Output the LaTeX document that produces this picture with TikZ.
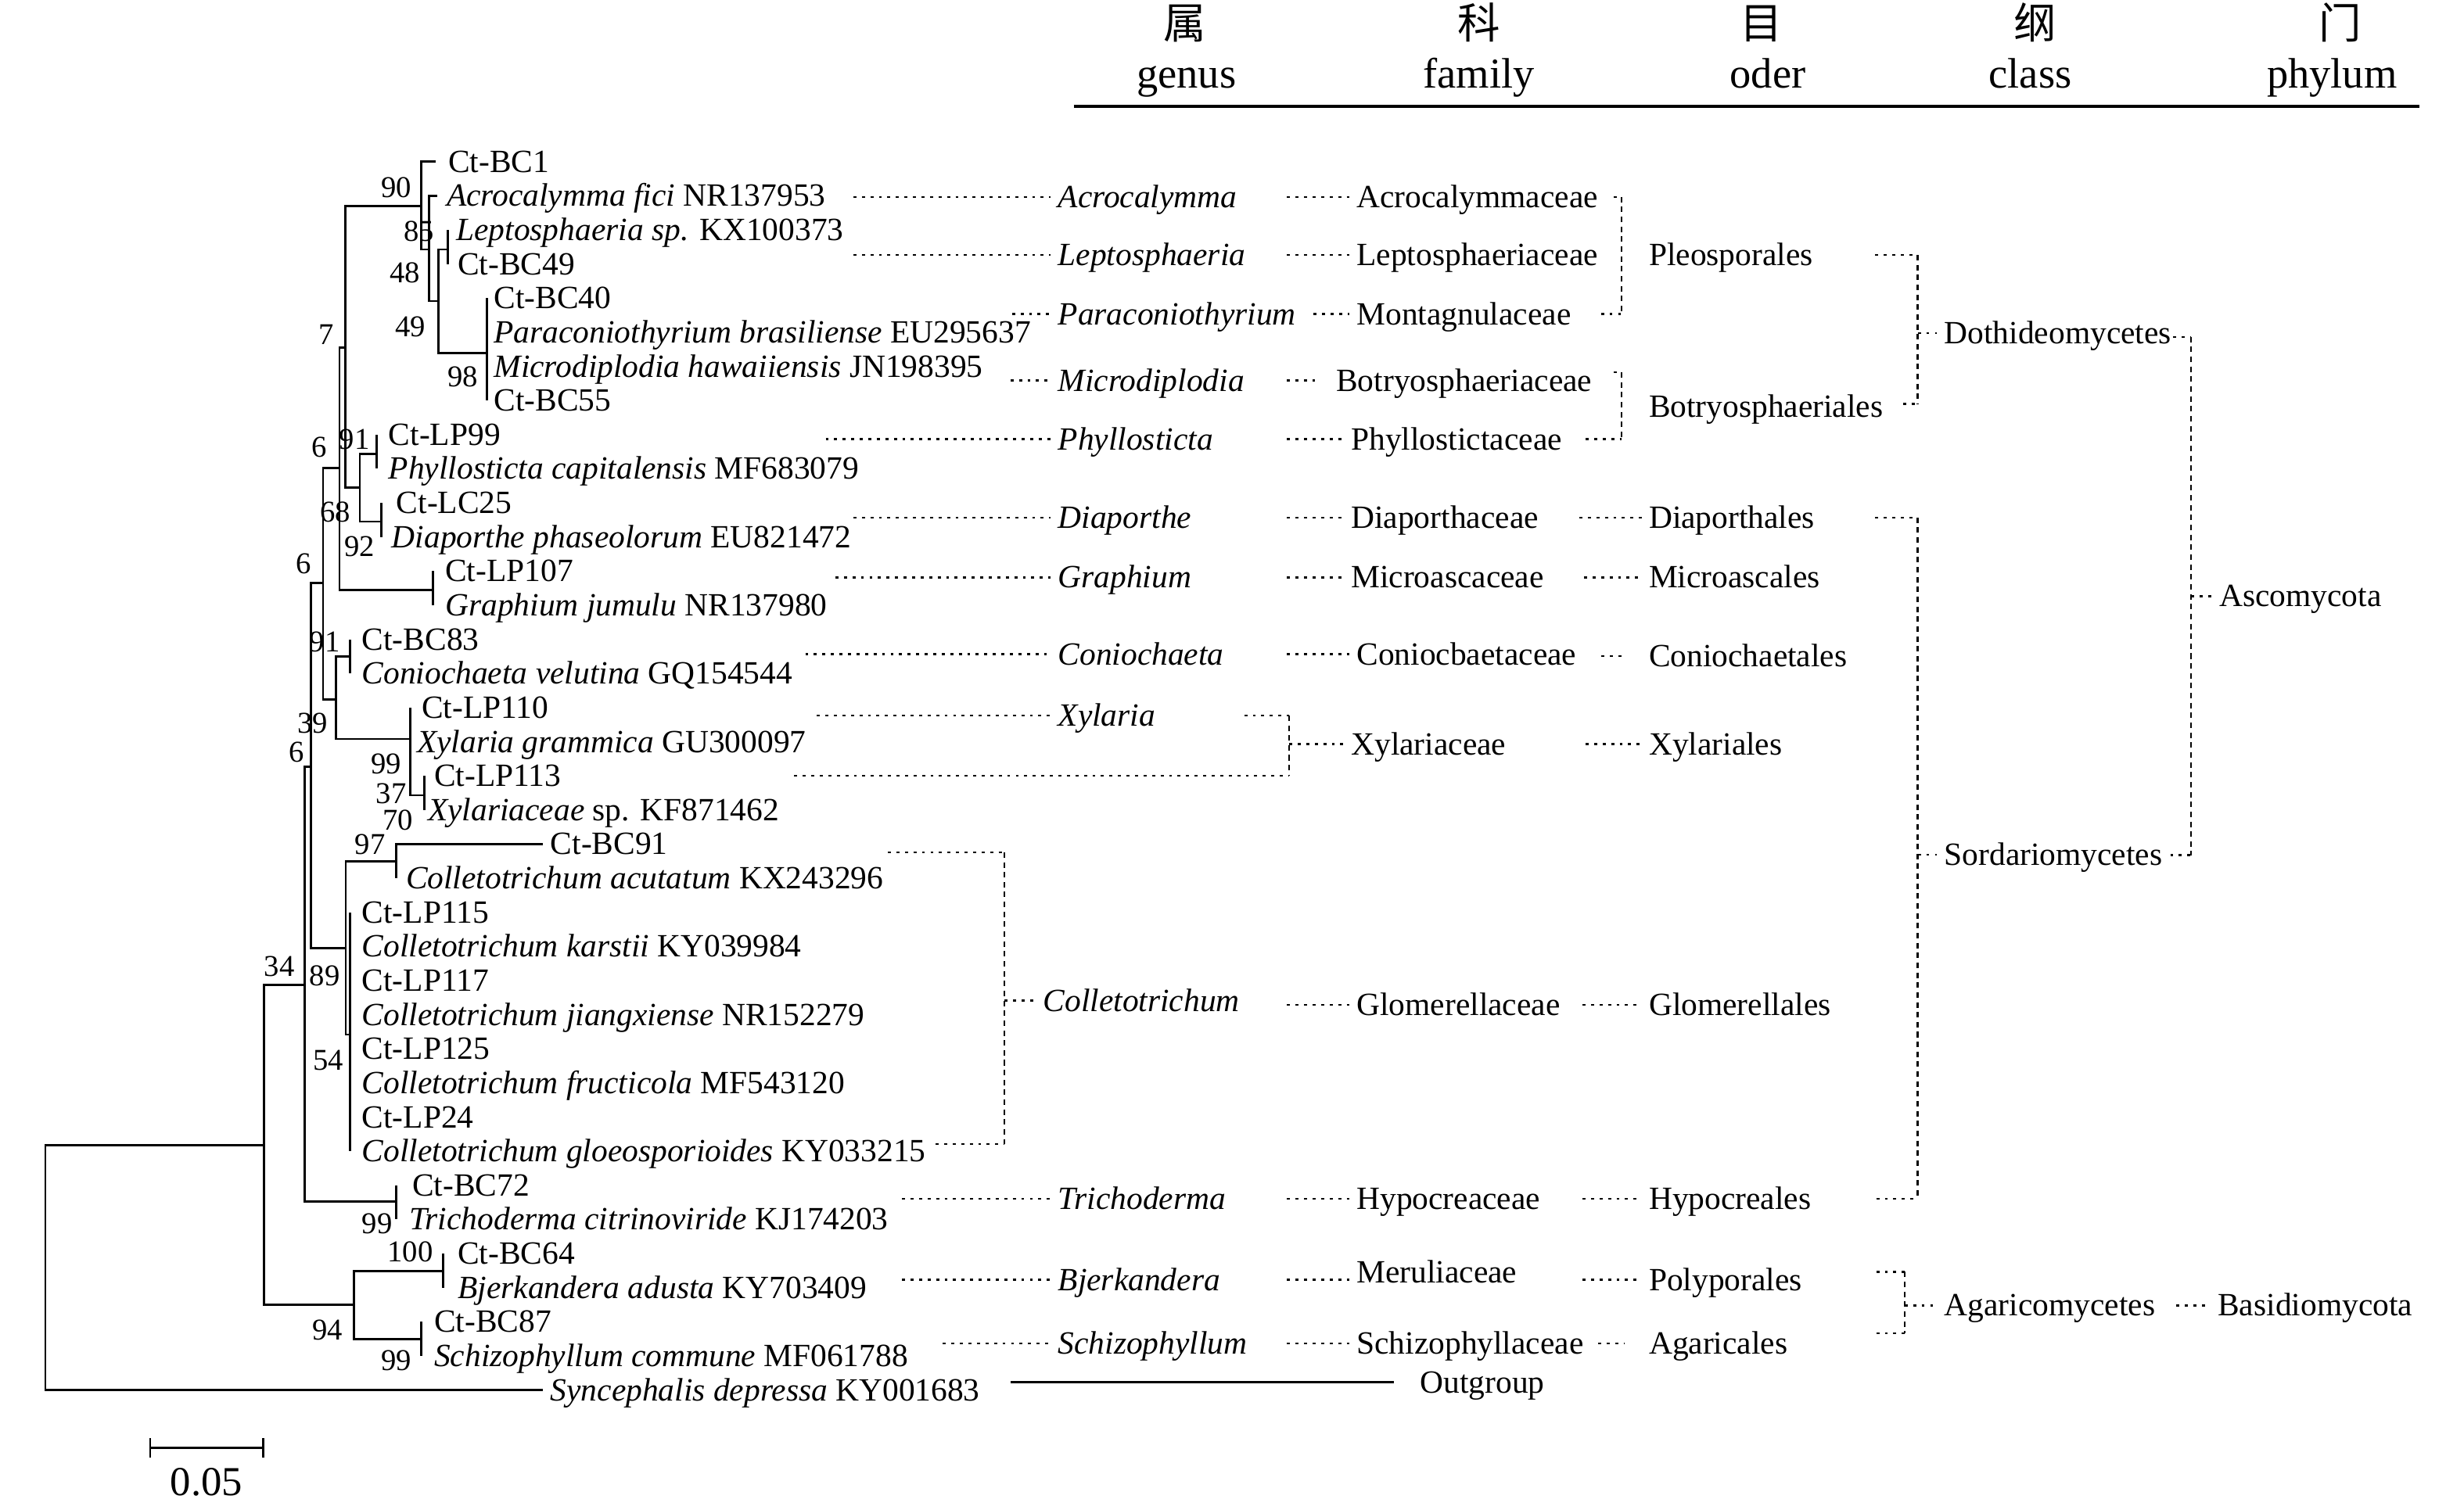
\documentclass[tikz,border=0pt]{standalone}
\usepackage{fontspec}
\setmainfont{Liberation Serif}
\newfontfamily\cjk{Noto Sans CJK SC}
\usetikzlibrary{positioning}

\begin{document}
\begin{tikzpicture}[x=0.02009cm, y=-0.02009cm,
  branch/.style={line width=0.8pt},
  dotline/.style={line width=0.7pt, dash pattern=on 1.1pt off 2pt},
  dashline/.style={line width=0.7pt, dash pattern=on 2pt off 1.6pt},
  tiptext/.style={anchor=west, inner sep=0pt, text height=9.5pt, text depth=1.8pt, font=\fontsize{11.8}{13}\selectfont},
  boot/.style={inner sep=0pt, font=\fontsize{11}{12}\selectfont},
  rank/.style={anchor=west, xshift=-2.5pt, inner xsep=2.5pt, inner ysep=0pt, text height=9.5pt, text depth=1.8pt, font=\fontsize{11.8}{13}\selectfont},
  genus/.style={rank, font=\fontsize{11.8}{13}\selectfont\itshape},
  headtext/.style={anchor=base, inner sep=0pt, font=\fontsize{15.5}{17}\selectfont},
]
\useasboundingbox (0,0) rectangle (1568,961);

% header
\foreach \x/\zh [count=\k] in {754/属, 941/科, 1121/目, 1295/纲, 1489/门}
  \node[headtext] (hz\k) at (\x,24.5) {\cjk \zh};
\foreach \x/\en [count=\k] in {755/genus, 941/family, 1125/oder, 1292/class, 1484/phylum}
  \node[headtext] (he\k) at (\x,56) {\en};
\coordinate (hr1) at (683.4,67.7);
\coordinate (hr2) at (1539.4,67.7);
\draw[line width=1.2pt] (hr1) -- (hr2);

% tips: line end / text start / label
\foreach \xe/\xt/\lab [count=\i] in {
  277.3/285/{Ct-BC1},
  278.2/284/{\textit{Acrocalymma fici} NR137953},
  285.1/290/{\textit{Leptosphaeria sp.} KX100373},
  285.1/291/{Ct-BC49},
  310/314/{Ct-BC40},
  310/314/{\textit{Paraconiothyrium brasiliense} EU295637},
  310/314/{\textit{Microdiplodia hawaiiensis} JN198395},
  310/314/{Ct-BC55},
  239.6/247/{Ct-LP99},
  239.6/247/{\textit{Phyllosticta capitalensis} MF683079},
  242.7/252/{Ct-LC25},
  242.7/249/{\textit{Diaporthe phaseolorum} EU821472},
  275.6/283/{Ct-LP107},
  275.6/283/{\textit{Graphium jumulu} NR137980},
  222.9/230/{Ct-BC83},
  222.9/230/{\textit{Coniochaeta velutina} GQ154544},
  261.1/268/{Ct-LP110},
  261.1/265/{\textit{Xylaria grammica} GU300097},
  270/276/{Ct-LP113},
  270/272/{\textit{Xylariaceae} sp. KF871462},
  345.6/350/{Ct-BC91},
  252.2/258/{\textit{Colletotrichum acutatum} KX243296},
  222.9/230/{Ct-LP115},
  222.9/230/{\textit{Colletotrichum karstii} KY039984},
  222.9/230/{Ct-LP117},
  222.9/230/{\textit{Colletotrichum jiangxiense} NR152279},
  222.9/230/{Ct-LP125},
  222.9/230/{\textit{Colletotrichum fructicola} MF543120},
  222.9/230/{Ct-LP24},
  222.9/230/{\textit{Colletotrichum gloeosporioides} KY033215},
  252.2/262/{Ct-BC72},
  252.2/260/{\textit{Trichoderma citrinoviride} KJ174203},
  281.8/291/{Ct-BC64},
  281.8/291/{\textit{Bjerkandera adusta} KY703409},
  268.2/276/{Ct-BC87},
  268.2/276/{\textit{Schizophyllum commune} MF061788},
  345.6/350/{\textit{Syncephalis depressa} KY001683}}
{
  \coordinate (e\i) at (\xe,{102.9+21.72*(\i-1)});
  \node[tiptext] (t\i) at (\xt,{102.9+21.72*(\i-1)}) {\lab};
}

% inner nodes
\coordinate (root) at (28.9,800);
\coordinate (n34) at (167.8,729);
\coordinate (nF) at (193.8,626.9);
\coordinate (nG) at (197.8,487.9);
\coordinate (nE) at (205.6,371.2);
\coordinate (nB) at (216,297.9);
\coordinate (nA) at (219.6,221.3);
\coordinate (n90) at (268.2,131.3);
\coordinate (n85) at (272.9,158.8);
\coordinate (n48) at (278.9,191.6);
\coordinate (nLp) at (285.1,158.8);
\coordinate (n98) at (310,224.6);
\coordinate (nC) at (229,310.4);
\coordinate (nPh) at (239.6,288.8);
\coordinate (nDi) at (242.7,332);
\coordinate (nGr) at (275.6,375.4);
\coordinate (nD) at (213.8,445.4);
\coordinate (nCo) at (222.9,417.9);
\coordinate (nXy) at (261.1,470.4);
\coordinate (nXs) at (270,506.2);
\coordinate (n89) at (220,603.5);
\coordinate (nCa) at (252.2,548.2);
\coordinate (n54) at (222.9,658.5);
\coordinate (nT) at (252.2,765);
\coordinate (nBs) at (225.1,830.5);
\coordinate (nBj) at (281.8,809.2);
\coordinate (nSc) at (268.2,852.5);

\foreach \p/\c in {root/n34, root/e37, n34/nF, n34/nBs, nF/nG, nF/nT,
  nG/nE, nG/n89, nE/nB, nE/nD, nB/nA, nB/nGr, nA/n90, nA/nC,
  n90/e1, n90/n85, n85/e2, n85/n48, n48/nLp, n48/n98, nLp/e3, nLp/e4,
  n98/e5, n98/e6, n98/e7, n98/e8, nC/nPh, nC/nDi, nPh/e9, nPh/e10,
  nDi/e11, nDi/e12, nGr/e13, nGr/e14, nD/nCo, nD/nXy, nCo/e15, nCo/e16,
  nXy/e17, nXy/e18, nXy/nXs, nXs/e19, nXs/e20, n89/nCa, n89/n54,
  nCa/e21, nCa/e22, n54/e23, n54/e24, n54/e25, n54/e26, n54/e27,
  n54/e28, n54/e29, n54/e30, nT/e31, nT/e32, nBs/nBj, nBs/nSc,
  nBj/e33, nBj/e34, nSc/e35, nSc/e36}
  \draw[branch] (\p) |- (\c);

% bootstrap values
\foreach \x/\y/\v [count=\k] in {252.2/119.6/90, 266.7/147.1/85, 257.8/173.8/48,
  261.1/207.9/49, 294.4/239.6/98, 207.8/212.9/7, 225.6/279.6/91, 203.3/284.6/6,
  213.3/326.2/68, 228.9/347.9/92, 193.3/358.7/6, 206.7/408.7/91, 198.9/460.4/39,
  188.9/478.7/6, 245.6/486.5/99, 248.9/505/37, 253.3/522/70, 235.6/537.7/97,
  177.8/615.2/34, 206.7/621/89, 208.9/675.2/54, 240/779.2/99, 261.1/796.7/100,
  208.4/846.7/94, 252.2/865.9/99}
  \node[boot] (b\k) at (\x,\y) {\v};

% genus
\foreach \x/\y/\lab [count=\k] in {673/125.3/Acrocalymma, 673/162.3/Leptosphaeria,
  673/199.9/Paraconiothyrium, 673/242.2/Microdiplodia, 673/279.5/Phyllosticta,
  673/329.4/Diaporthe, 673/367.5/Graphium, 673/416.4/Coniochaeta, 673/455.4/Xylaria,
  663.5/637/Colletotrichum, 673/763.2/Trichoderma, 673/814.6/Bjerkandera,
  673/855.2/Schizophyllum}
  \node[genus] (g\k) at (\x,\y) {\lab};

% family
\foreach \x/\y/\lab [count=\k] in {863/125.3/Acrocalymmaceae, 863/162.3/Leptosphaeriaceae,
  863/199.9/Montagnulaceae, 850/242.2/Botryosphaeriaceae, 859.5/279.5/Phyllostictaceae,
  859.5/329.4/Diaporthaceae, 859.5/367.5/Microascaceae, 863/416.4/Coniocbaetaceae,
  859.5/473.7/Xylariaceae, 863/639.5/Glomerellaceae, 863/763.2/Hypocreaceae,
  863/810/Meruliaceae, 863/855.2/Schizophyllaceae}
  \node[rank] (f\k) at (\x,\y) {\lab};

% order
\foreach \y/\lab [count=\k] in {162.3/Pleosporales, 259/Botryosphaeriales,
  329.4/Diaporthales, 367.5/Microascales, 417.5/Coniochaetales, 473.7/Xylariales,
  639.5/Glomerellales, 763.2/Hypocreales, 814.6/Polyporales, 855.2/Agaricales}
  \node[rank] (o\k) at (1049,\y) {\lab};

% class and phylum
\node[rank] (c1) at (1237,212) {Dothideomycetes};
\node[rank] (c2) at (1237,544) {Sordariomycetes};
\node[rank] (c3) at (1237,831) {Agaricomycetes};
\node[rank] (p1) at (1412,379.5) {Ascomycota};
\node[rank] (p2) at (1411,831) {Basidiomycota};

% tip -> genus
\foreach \xs/\k in {543/1, 543/2, 644/3, 643/4, 525.4/5, 543/6, 531.6/7,
  512.5/8, 519.8/9, 574/11, 574/12, 600/13}
  \draw[dotline] (\xs,0 |- g\k) -- (g\k.west);

% genus -> family
\foreach \k in {1,2,5,6,7,8,10,11,13}
  \draw[dotline] (819,0 |- f\k) -- (f\k.west);
\draw[dotline] (836,0 |- f3) -- (f3.west);
\draw[dotline] (819,0 |- f4) -- (837,0 |- f4);
\draw[dotline] (819,0 |- g12) -- (f12.west |- g12);

% family -> order
\foreach \xs/\k in {1005/3, 1008/4, 1009/6, 1007/7, 1007/8, 1007/9}
  \draw[dotline] (\xs,0 |- o\k) -- (o\k.west);
\draw[dotline] (1019,0 |- o5) -- (1034,0 |- o5);
\draw[dotline] (1017,0 |- o10) -- (1034,0 |- o10);

% Xylariaceae bracket
\coordinate (xyT) at (820.4,455.4);
\coordinate (xyB) at (820.4,493.7);
\coordinate (xyM) at (820.4,473.7);
\draw[dotline] (791.8,0 |- xyT) -- (xyT);
\draw[dotline] (505.4,0 |- xyB) -- (xyB);
\draw[dashline] (xyT) -- (xyB);
\draw[dotline] (xyM) -- (f9.west);

% Colletotrichum bracket
\coordinate (coT) at (639.2,542.5);
\coordinate (coB) at (639.2,728.3);
\coordinate (coM) at (639.2,637);
\draw[dotline] (565,0 |- coT) -- (coT);
\draw[dotline] (595.4,0 |- coB) -- (coB);
\draw[dashline] (coT) -- (coB);
\draw[dotline] (coM) -- (g10.west);

% Pleosporales bracket
\coordinate (plT) at (1032,125.3);
\coordinate (plB) at (1032,199.9);
\draw[dotline] (1026.8,0 |- plT) -- (plT);
\draw[dotline] (1018.8,0 |- plB) -- (plB);
\draw[dashline] (plT) -- (plB);

% Botryosphaeriales bracket
\coordinate (btT) at (1032,237);
\coordinate (btB) at (1032,279.5);
\draw[dotline] (1027,0 |- btT) -- (btT);
\draw[dotline] (1009,0 |- btB) -- (btB);
\draw[dashline] (btT) -- (btB);

% Dothideomycetes bracket
\coordinate (dtT) at (1220.4,162.3);
\coordinate (dtB) at (1220.4,257);
\coordinate (dtM) at (1220.4,212);
\draw[dotline] (1193.4,0 |- dtT) -- (dtT);
\draw[dotline] (1211,0 |- dtB) -- (dtB);
\draw[dashline] (dtT) -- (dtB);
\draw[dotline] (dtM) -- (c1.west);

% Sordariomycetes bracket
\coordinate (soT) at (1220.4,329.4);
\coordinate (soB) at (1220.4,763.2);
\coordinate (soM) at (1220.4,544);
\draw[dotline] (1193.4,0 |- soT) -- (soT);
\draw[dotline] (1194,0 |- soB) -- (soB);
\draw[dashline] (soT) -- (soB);
\draw[dotline] (soM) -- (c2.west);

% Agaricomycetes bracket
\coordinate (agT) at (1212,809.6);
\coordinate (agB) at (1212,848.6);
\coordinate (agM) at (1212,831);
\draw[dotline] (1194,0 |- agT) -- (agT);
\draw[dotline] (1194,0 |- agB) -- (agB);
\draw[dashline] (agT) -- (agB);
\draw[dotline] (agM) -- (c3.west);

% Ascomycota bracket
\coordinate (asT) at (1394.3,214.4);
\coordinate (asB) at (1394.3,544.4);
\coordinate (asM) at (1394.3,379.5);
\draw[dotline] (1382.9,0 |- asT) -- (asT);
\draw[dotline] (1381.1,0 |- asB) -- (asB);
\draw[dashline] (asT) -- (asB);
\draw[dotline] (asM) -- (p1.west);
\draw[dotline] (1385,0 |- p2) -- (p2.west);

% outgroup
\node[rank, inner xsep=9.5pt, xshift=-7pt] (og) at (903.5,880) {Outgroup};
\coordinate (ogL) at (643,880);
\draw[line width=0.9pt] (ogL) -- (og.west);

% scale bar
\coordinate (sbL) at (95.6,921.7);
\coordinate (sbR) at (167.3,921.7);
\coordinate (sbM) at (131.45,921.7);
\draw[branch] (sbL) -- (sbR);
\draw[branch] ([yshift=3.6pt]sbL) -- ([yshift=-3.6pt]sbL);
\draw[branch] ([yshift=3.6pt]sbR) -- ([yshift=-3.6pt]sbR);
\node[inner sep=0pt, font=\fontsize{15}{17}\selectfont, below=7pt of sbM] (sbLab) {0.05};
\end{tikzpicture}
\end{document}
